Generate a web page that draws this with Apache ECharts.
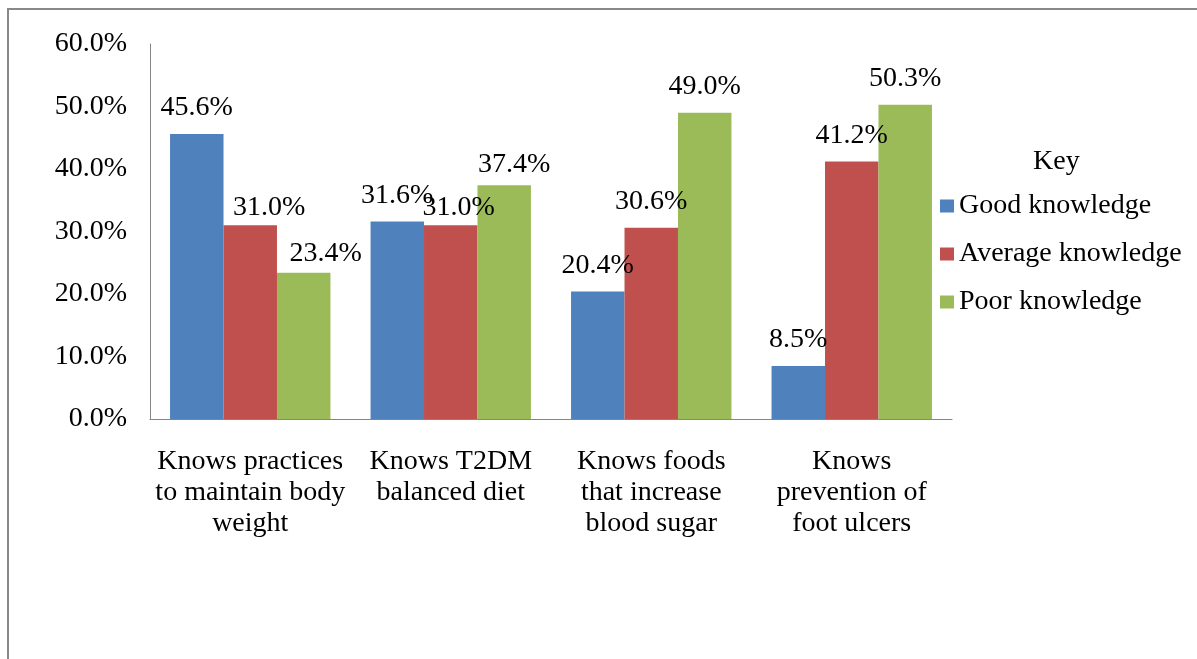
<!DOCTYPE html>
<html>
<head>
<meta charset="utf-8">
<script src="https://cdn.jsdelivr.net/npm/echarts@6/dist/echarts.min.js"></script>
<style>
  html, body { margin: 0; padding: 0; background: #fff; }
  #chart { width: 1197px; height: 659px; }
</style>
</head>
<body>
<div id="chart"></div>
<script>
// Knowledge level per diabetes self-care topic (percent of respondents)
const categories = [
  'Knows practices\nto maintain body\nweight',
  'Knows T2DM\nbalanced diet',
  'Knows foods\nthat increase\nblood sugar',
  'Knows\nprevention of\nfoot ulcers'
];
const seriesNames = ['Good knowledge', 'Average knowledge', 'Poor knowledge'];
const goodValues = [45.6, 31.6, 20.4, 8.5];
const averageValues = [31.0, 31.0, 30.6, 41.2];
const poorValues = [23.4, 37.4, 49.0, 50.3];
const yTicks = { min: 0, max: 60, interval: 10 };

const colors = ['#4F81BD', '#C0504D', '#9BBB59'];
const FONT = 'Liberation Serif';
const FS = 28;

// a few value labels were dragged aside by hand: [series][category] -> [dx, dy]
const labelNudges = {
  1: { 0: [19, 8], 1: [8, 8] },
  2: { 0: [22, 7], 1: [10, 5] }
};

const chart = echarts.init(document.getElementById('chart'));

function barSeries(idx, values) {
  return {
    name: seriesNames[idx],
    type: 'bar',
    barGap: '0%',
    barCategoryGap: '20%',
    itemStyle: { color: colors[idx] },
    data: values.map((v, i) => {
      const nudge = labelNudges[idx] && labelNudges[idx][i];
      return nudge ? { value: v, label: { offset: nudge } } : v;
    }),
    label: {
      show: true,
      position: 'top',
      distance: 12,
      color: '#000',
      fontFamily: FONT,
      fontSize: FS,
      formatter: p => p.value.toFixed(1) + '%'
    }
  };
}

chart.setOption({
  animation: false,
  backgroundColor: '#fff',
  textStyle: { fontFamily: FONT },
  graphic: [{
    type: 'rect',
    shape: { x: 8, y: 9, width: 1400, height: 900 },
    style: { fill: 'none', stroke: '#898989', lineWidth: 2 },
    silent: true
  }],
  title: {
    text: 'Key',
    left: 1033,
    top: 148,
    padding: 0,
    textStyle: { fontFamily: FONT, fontSize: FS, fontWeight: 'normal', color: '#000' }
  },
  legend: {
    orient: 'vertical',
    left: 935,
    top: 186,
    itemWidth: 14,
    itemHeight: 13,
    itemGap: 18,
    icon: 'rect',
    data: seriesNames,
    textStyle: { fontFamily: FONT, fontSize: FS, color: '#000', lineHeight: 30 }
  },
  grid: { left: 150, right: 245, top: 44, bottom: 240, containLabel: false },
  xAxis: {
    type: 'category',
    data: categories,
    axisLine: { lineStyle: { color: '#868686', width: 1 } },
    axisTick: { show: false },
    axisLabel: {
      interval: 0,
      margin: 27,
      color: '#000',
      fontFamily: FONT,
      fontSize: FS,
      lineHeight: 31
    }
  },
  yAxis: {
    type: 'value',
    min: yTicks.min,
    max: yTicks.max,
    interval: yTicks.interval,
    axisLine: { show: true, lineStyle: { color: '#868686', width: 1 } },
    axisTick: { show: false },
    splitLine: { show: false },
    axisLabel: {
      margin: 23,
      color: '#000',
      fontFamily: FONT,
      fontSize: FS,
      formatter: v => v.toFixed(1) + '%'
    }
  },
  series: [
    barSeries(0, goodValues),
    barSeries(1, averageValues),
    barSeries(2, poorValues)
  ]
});
</script>
</body>
</html>
